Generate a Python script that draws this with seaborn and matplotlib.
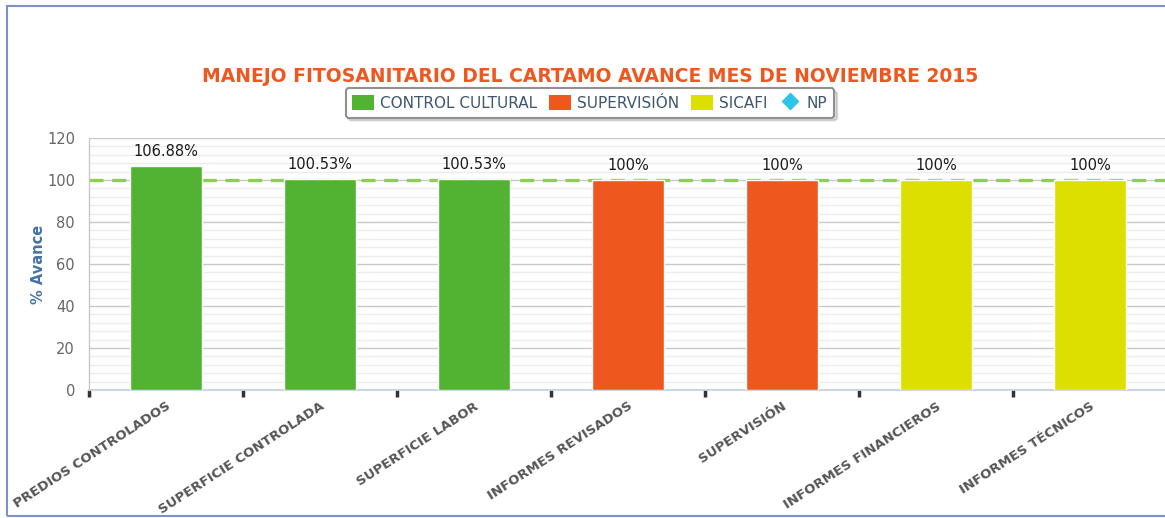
import pandas as pd
import seaborn as sns
import matplotlib.pyplot as plt
from matplotlib.patches import Rectangle, Patch
from matplotlib.lines import Line2D

categories = ['PREDIOS CONTROLADOS', 'SUPERFICIE CONTROLADA', 'SUPERFICIE LABOR',
              'INFORMES REVISADOS', 'SUPERVISIÓN', 'INFORMES FINANCIEROS', 'INFORMES TÉCNICOS']
values = [106.88, 100.53, 100.53, 100, 100, 100, 100]
labels = ['106.88%', '100.53%', '100.53%', '100%', '100%', '100%', '100%']
groups = ['CONTROL CULTURAL', 'CONTROL CULTURAL', 'CONTROL CULTURAL',
          'SUPERVISIÓN', 'SUPERVISIÓN', 'SICAFI', 'SICAFI']
series_names = ['CONTROL CULTURAL', 'SUPERVISIÓN', 'SICAFI', 'NP']
series_colors = ['#52B232', '#EE581E', '#DCDF00', '#2EC4E6']
target = 100

data = pd.DataFrame({'cat': categories, 'val': values, 'grp': groups})

sns.set_style('white')
plt.rcParams['font.family'] = ['DejaVu Sans']

fig = plt.figure(figsize=(11.65, 5.18), dpi=100)
ax = fig.add_axes([89 / 1165, 1 - 390 / 518, 1078 / 1165, 252 / 518])

palette = dict(zip(series_names[:3], series_colors[:3]))
sns.barplot(data=data, x='cat', y='val', hue='grp', palette=palette, dodge=False,
            width=0.47, saturation=1, legend=False, ax=ax, zorder=3)

for i, (v, lab) in enumerate(zip(values, labels)):
    ax.text(i, v + 3.2, lab, ha='center', va='bottom', fontsize=10.5, color='#1a1a1a', zorder=5)

ax.axhline(target, color='#8ED04E', lw=2.4, dashes=(4.2, 2.6), zorder=2)

ax.set_ylim(0, 120)
ax.set_xlim(-0.5, 6.5)
ax.set_yticks(range(0, 121, 20))
ax.set_yticks(range(0, 121, 4), minor=True)
ax.grid(axis='y', which='major', color='#C8C8C8', lw=1, zorder=0)
ax.grid(axis='y', which='minor', color='#ECECEC', lw=1, zorder=0)
ax.set_axisbelow(True)

ax.set_xticks(range(len(categories)))
ax.set_xticks([i - 0.5 for i in range(len(categories) + 1)], minor=True)
ax.set_xticklabels(categories, rotation=33, ha='right', rotation_mode='anchor',
                   fontsize=9.5, fontweight='bold', color='#555555')
ax.tick_params(axis='x', which='major', bottom=True, length=0, pad=7)
ax.tick_params(axis='x', which='minor', bottom=True, length=5, width=2.5, color='#333333')
ax.tick_params(axis='y', which='both', length=0, labelsize=10.5, labelcolor='#666666', pad=10)

ax.set_xlabel('')
ax.set_ylabel('% Avance', color='#4572A7', fontsize=10.5, fontweight='bold', labelpad=1)

for s in ['top', 'right']:
    ax.spines[s].set_visible(False)
ax.spines['left'].set_color('#C8C8C8')
ax.spines['left'].set_linewidth(1)
ax.spines['bottom'].set_color('#C0D0E0')
ax.spines['bottom'].set_linewidth(1.2)

fig.text(590 / 1165, 1 - 77 / 518, 'MANEJO FITOSANITARIO DEL CARTAMO AVANCE MES DE NOVIEMBRE 2015',
         ha='center', va='center', fontsize=13.5, fontweight='bold', color='#EE581E')

handles = [Patch(facecolor=c, edgecolor='none') for c in series_colors[:3]]
handles.append(Line2D([], [], marker='D', linestyle='none', markersize=9,
                      markerfacecolor=series_colors[3], markeredgecolor='none'))
leg = fig.legend(handles, series_names, loc='center', bbox_to_anchor=(590 / 1165, 1 - 103 / 518),
                 ncol=4, frameon=True, fancybox=True,
                 shadow={'color': '#999999', 'alpha': 0.35, 'ox': 2, 'oy': -2},
                 fontsize=11, handlelength=1.4, handleheight=1.1, handletextpad=0.4,
                 columnspacing=0.8, borderpad=0.45)
leg.get_frame().set_edgecolor('#909090')
leg.get_frame().set_linewidth(1.5)
for t in leg.get_texts():
    t.set_color('#3E576F')

fig.patches.append(Rectangle((7 / 1165, 2 / 518), 1.2, 510 / 518, transform=fig.transFigure,
                             fill=False, edgecolor='#7E92C8', lw=1.5, zorder=0))

fig.savefig('out.png', dpi=100)
